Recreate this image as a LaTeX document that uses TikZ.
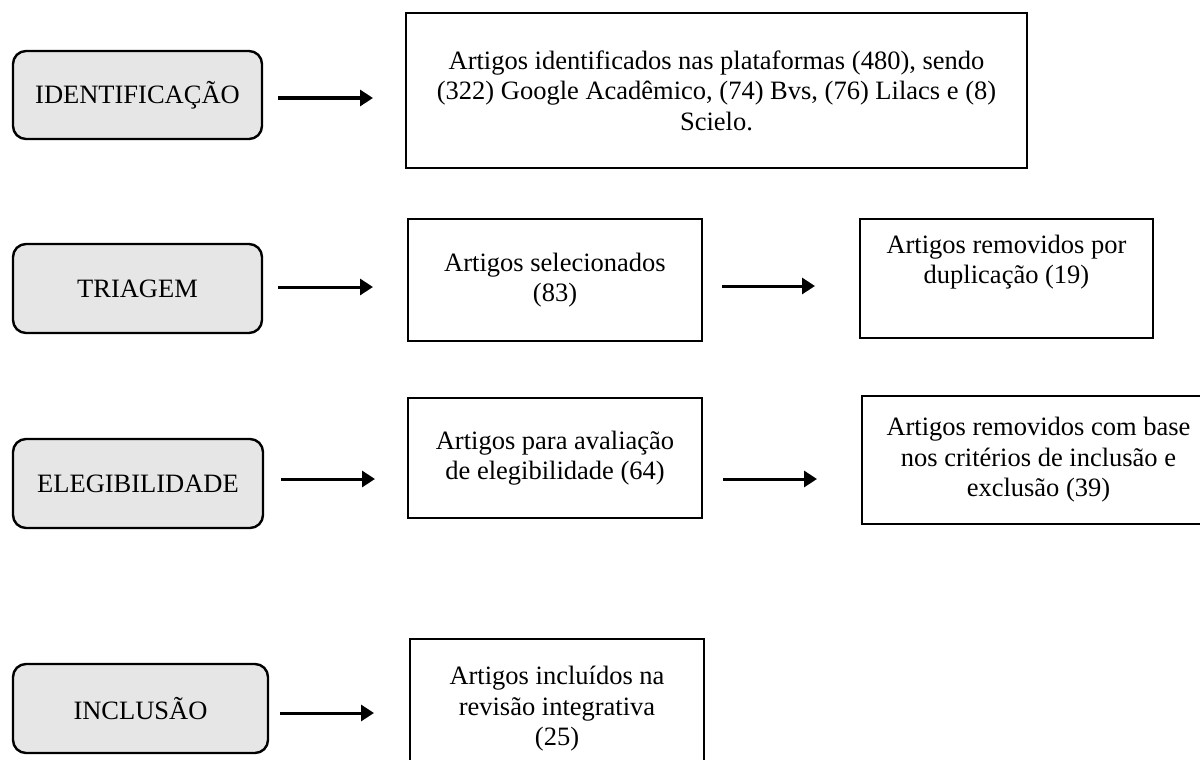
\documentclass[tikz,border=0pt]{standalone}
\usepackage{fontspec}
\setmainfont{Liberation Serif}
\usetikzlibrary{arrows.meta}
\definecolor{stagefill}{HTML}{E6E6E6}
\begin{document}
\begin{tikzpicture}[x=1pt,y=-1pt,
  every node/.style={font=\fontsize{26.5}{30.5}\selectfont, align=center, inner sep=0pt},
  stage/.style={draw, line width=2.4pt, rounded corners=13pt, fill=stagefill},
  infobox/.style={draw, line width=2.4pt},
  arr/.style={line width=3pt, -{Triangle[length=13pt,width=16pt]}}]
\useasboundingbox (0,0) rectangle (1200,760);
% stage boxes
\node[stage, minimum width=249pt, minimum height=88pt] (L1) at (137.5,95) {IDENTIFICAÇÃO};
\node[stage, minimum width=249pt, minimum height=89pt] (L2) at (137.5,288.5) {TRIAGEM};
\node[stage, minimum width=250pt, minimum height=89pt] (L3) at (138,483.5) {ELEGIBILIDADE};
\node[stage, minimum width=255pt, minimum height=89pt] (L4) at (140.5,708.5) {INCLUSÃO};
% info boxes
\node[infobox, minimum width=621pt, minimum height=155pt] (R1) at (716.5,90.5)
  {Artigos identificados nas plataformas (480), sendo\\(322) Google Acadêmico, (74) Bvs, (76) Lilacs e (8)\\Scielo.};
\node[infobox, minimum width=294pt, minimum height=122pt] (M2) at (555,280)
  {Artigos selecionados\\(83)};
\node[infobox, minimum width=293pt, minimum height=119pt] (R2) at (1006.5,278.5) {};
\node (R2t) at (1006.5,262) {Artigos removidos por\\duplicação (19)};
\node[infobox, minimum width=294pt, minimum height=120pt] (M3) at (555,458)
  {Artigos para avaliação\\de elegibilidade (64)};
\node[infobox, minimum width=353pt, minimum height=128pt] (R3) at (1038.5,460)
  {Artigos removidos com base\\nos critérios de inclusão e\\exclusão (39)};
\node[infobox, minimum width=294pt, minimum height=140pt] (M4) at (557,709)
  {Artigos incluídos na\\revisão integrativa\\(25)};
% arrow end points
\coordinate (a1s) at (278,98);  \coordinate (a1e) at (373,98);
\coordinate (a2s) at (278,287); \coordinate (a2e) at (373,287);
\coordinate (a3s) at (722,286); \coordinate (a3e) at (815,286);
\coordinate (a4s) at (281,479); \coordinate (a4e) at (375,479);
\coordinate (a5s) at (723,479); \coordinate (a5e) at (817,479);
\coordinate (a6s) at (280,713); \coordinate (a6e) at (374,713);
\draw[arr] (a1s) -- (a1e);
\draw[arr] (a2s) -- (a2e);
\draw[arr] (a3s) -- (a3e);
\draw[arr] (a4s) -- (a4e);
\draw[arr] (a5s) -- (a5e);
\draw[arr] (a6s) -- (a6e);
\end{tikzpicture}
\end{document}
